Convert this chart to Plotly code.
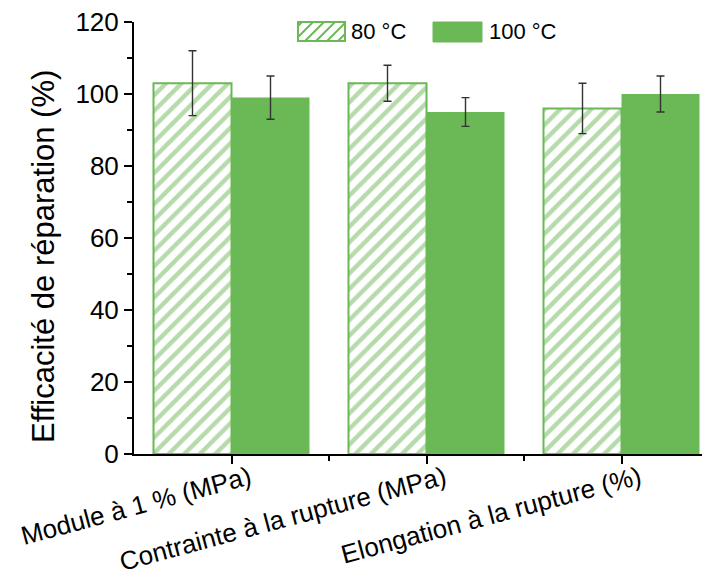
import plotly.graph_objects as go

categories = ["Module à 1 % (MPa)", "Contrainte à la rupture (MPa)", "Elongation à la rupture (%)"]
series_names = ["80 °C", "100 °C"]
values_80 = [103, 103, 96]
errors_80 = [9, 5, 7]
values_100 = [99, 95, 100]
errors_100 = [6, 4, 5]
y_ticks = [0, 20, 40, 60, 80, 100, 120]
y_title = "Efficacité de réparation (%)"

GREEN = "#6BB856"
FONT = "Liberation Sans, Arial, sans-serif"

OFF = 8  # default page body margin
W, H = 710 - OFF, 578 - OFF
L, R, T, B = 134 - OFF, 0, 22 - OFF, 124
PW, PH = W - L - R, H - T - B

xpos = list(range(len(categories)))

fig = go.Figure()
fig.add_trace(go.Bar(
    x=xpos, y=values_80, name=series_names[0],
    marker=dict(color="white", line=dict(color=GREEN, width=2),
                pattern=dict(shape="/", fgcolor=GREEN, bgcolor="white", size=11, solidity=0.4)),
    error_y=dict(type="data", array=errors_80, color="#333333", thickness=1.4, width=4),
    showlegend=False,
))
fig.add_trace(go.Bar(
    x=xpos, y=values_100, name=series_names[1],
    marker=dict(color=GREEN, line=dict(color=GREEN, width=0)),
    error_y=dict(type="data", array=errors_100, color="#333333", thickness=1.4, width=4),
    showlegend=False,
))

def px2paper(px, py):
    # px, py in page pixels (reference image coordinates)
    return (px - OFF - L) / PW, (H - B - (py - OFF)) / PH

shapes = []
# legend swatch 1 (hatched)
sx0, sx1, sy0, sy1 = 298, 345, 22, 41
a0, b0 = px2paper(sx0, sy1)
a1, b1 = px2paper(sx1, sy0)
shapes.append(dict(type="rect", xref="paper", yref="paper", x0=a0, y0=b0, x1=a1, y1=b1,
                   line=dict(color=GREEN, width=2), fillcolor="white"))
step = 11
c = sx0 + sy0 + 4
while c < sx1 + sy1:
    pts = []
    for xx in (sx0, sx1):
        yy = c - xx
        if sy0 <= yy <= sy1:
            pts.append((xx, yy))
    for yy in (sy0, sy1):
        xx = c - yy
        if sx0 <= xx <= sx1:
            pts.append((xx, yy))
    pts = sorted(set(pts))
    if len(pts) >= 2:
        p0 = px2paper(*pts[0]); p1 = px2paper(*pts[-1])
        shapes.append(dict(type="line", xref="paper", yref="paper", x0=p0[0], y0=p0[1],
                           x1=p1[0], y1=p1[1], line=dict(color=GREEN, width=2)))
    c += step
# legend swatch 2 (solid)
a0, b0 = px2paper(433, 42)
a1, b1 = px2paper(482, 22)
shapes.append(dict(type="rect", xref="paper", yref="paper", x0=a0, y0=b0, x1=a1, y1=b1,
                   line=dict(color=GREEN, width=1), fillcolor=GREEN))

annotations = []
for name, px_ in ((series_names[0], 349), (series_names[1], 487)):
    ax, ay = px2paper(px_, 32)
    annotations.append(dict(text=name, xref="paper", yref="paper", x=ax, y=ay,
                            xanchor="left", yanchor="middle", showarrow=False,
                            font=dict(size=22, color="black", family=FONT)))
tx, ty = px2paper(44, 257)
annotations.append(dict(text=y_title, xref="paper", yref="paper", x=tx, y=ty, textangle=-90,
                        xanchor="center", yanchor="middle", showarrow=False,
                        font=dict(size=31, color="black", family=FONT)))

fig.update_layout(
    width=W, height=H,
    margin=dict(l=L, r=R, t=T, b=B, autoexpand=False),
    paper_bgcolor="white", plot_bgcolor="white",
    barmode="group", bargap=0.2, bargroupgap=0,
    font=dict(family=FONT, color="black"),
    shapes=shapes, annotations=annotations,
    showlegend=False,
)
fig.update_xaxes(
    range=[-0.5, PW / 195 - 0.5], tickmode="array", tickvals=xpos, ticktext=categories,
    tickangle=-15, tickfont=dict(size=26, family=FONT),
    ticklabelstandoff=-11, ticklabelshift=18, ticklabeloverflow="allow",
    showline=True, linecolor="black", linewidth=2,
    ticks="outside", ticklen=8, tickwidth=2, tickcolor="black",
    minor=dict(tickmode="array", tickvals=[0.5, 1.5], ticks="outside", ticklen=5, tickwidth=2, tickcolor="black"),
    showgrid=False, zeroline=False, automargin=False,
)
fig.update_yaxes(
    range=[0, 120], tickmode="array", tickvals=y_ticks, tickfont=dict(size=26, family=FONT),
    ticklabeloverflow="allow",
    showline=True, linecolor="black", linewidth=2,
    ticks="outside", ticklen=8, tickwidth=2, tickcolor="black",
    minor=dict(dtick=10, ticks="outside", ticklen=5, tickwidth=2, tickcolor="black"),
    showgrid=False, zeroline=False, automargin=False,
)

fig.write_html("out.html")
